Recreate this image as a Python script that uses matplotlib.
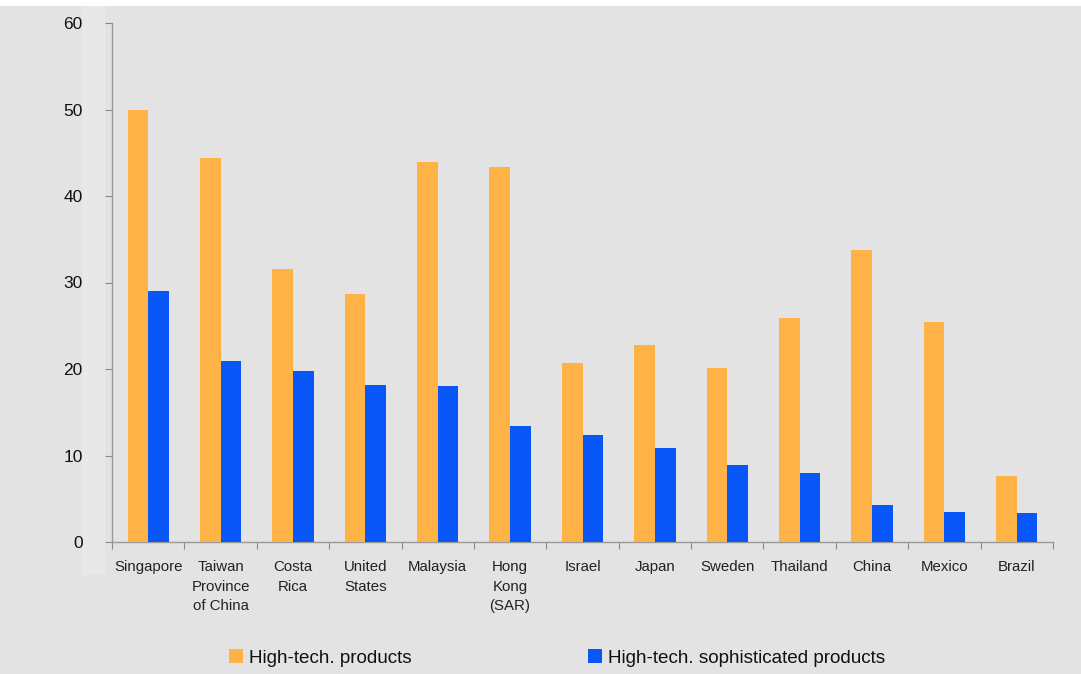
import matplotlib
matplotlib.use("Agg")
import matplotlib.pyplot as plt
import numpy as np
from matplotlib.patches import Rectangle, Patch

categories = ["Singapore", "Taiwan\nProvince\nof China", "Costa\nRica", "United\nStates",
              "Malaysia", "Hong\nKong\n(SAR)", "Israel", "Japan", "Sweden", "Thailand",
              "China", "Mexico", "Brazil"]
high_tech = [50.0, 44.4, 31.6, 28.7, 43.9, 43.4, 20.7, 22.8, 20.1, 25.9, 33.8, 25.4, 7.6]
high_tech_soph = [29.0, 20.9, 19.8, 18.2, 18.0, 13.4, 12.4, 10.9, 8.9, 8.0, 4.3, 3.5, 3.4]
series_names = ["High-tech. products", "High-tech. sophisticated products"]
yticks = [0, 10, 20, 30, 40, 50, 60]

plt.rcParams['font.family'] = ['Liberation Sans', 'DejaVu Sans']

ORANGE = "#FFB347"
BLUE = "#0A57F7"
BG = "#E3E3E3"

fig = plt.figure(figsize=(10.81, 6.74), dpi=100)
fig.patch.set_facecolor("white")
# gray panel below the (cropped) title strip
fig.patches.append(Rectangle((0, 0), 1, 1 - 6/674, transform=fig.transFigure,
                             facecolor=BG, edgecolor="none", zorder=-10))
fig.patches.append(Rectangle((82/1081, 1 - 575/674), 23/1081, (575 - 6)/674,
                             transform=fig.transFigure, facecolor="#E8E8E8",
                             edgecolor="none", zorder=-9))

ax = fig.add_axes([112/1081, 1 - 542/674, (1053 - 112)/1081, (542 - 23)/674])
ax.set_facecolor("none")

x = np.arange(len(categories))
w = 0.285
ax.bar(x - w/2, high_tech, width=w, color=ORANGE, label=series_names[0], zorder=3)
ax.bar(x + w/2, high_tech_soph, width=w, color=BLUE, label=series_names[1], zorder=3)

ax.set_xlim(-0.5, len(categories) - 0.5)
ax.set_ylim(0, 60)
ax.set_yticks(yticks)
ax.tick_params(axis='y', direction='out', length=5, width=0.8, color="#888888",
               pad=16, labelsize=12.5, labelcolor="#111111")

ax.set_xticks(x)
ax.set_xticklabels(categories, fontsize=10.8, color="#222222", linespacing=1.5, va='top')
ax.tick_params(axis='x', which='major', length=0, pad=13)
ax.set_xticks(np.arange(-0.5, len(categories)), minor=True)
ax.tick_params(axis='x', which='minor', direction='out', length=5, width=0.8, color="#888888")

for s in ["top", "right"]:
    ax.spines[s].set_visible(False)
for s in ["left", "bottom"]:
    ax.spines[s].set_color("#999999")
    ax.spines[s].set_linewidth(1.0)

handles = [Patch(facecolor=ORANGE, edgecolor="none"), Patch(facecolor=BLUE, edgecolor="none")]
fig.legend(handles, series_names, loc="center", bbox_to_anchor=(557/1081, 1 - 658/674),
           ncol=2, frameon=False, fontsize=13.6, handlelength=0.75, handleheight=0.75,
           handletextpad=0.35, columnspacing=9.3, labelcolor="#111111")

fig.savefig("out.png", dpi=100, facecolor=fig.get_facecolor())
